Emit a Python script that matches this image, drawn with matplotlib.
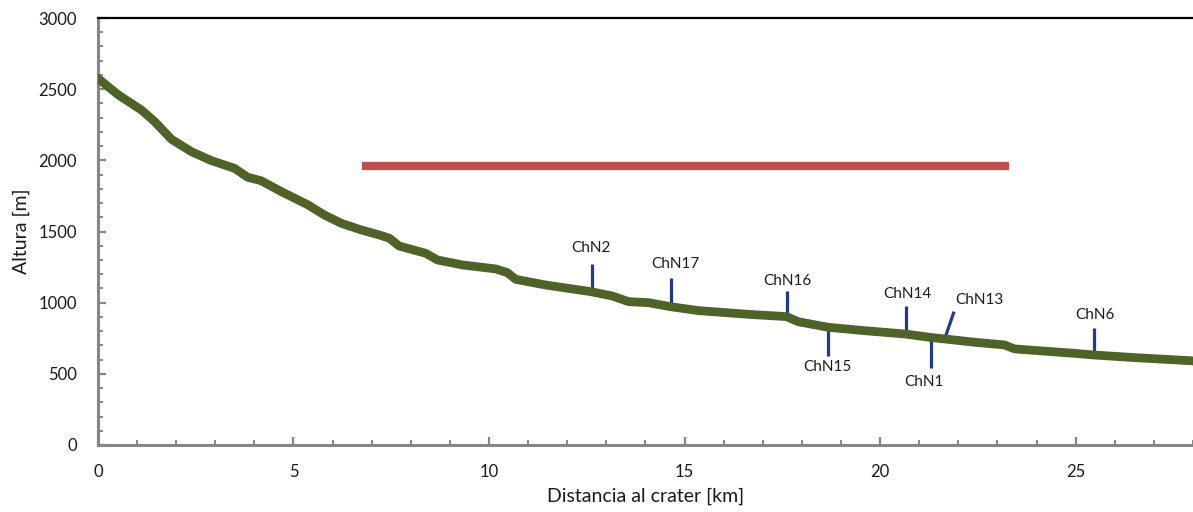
import matplotlib
matplotlib.use("Agg")
import matplotlib.pyplot as plt
from matplotlib.ticker import MultipleLocator

plt.rcParams['font.family'] = ['Lato', 'DejaVu Sans']

# Elevation profile (distance km, altitude m)
dist = [0.0, 0.05, 0.52, 1.11, 1.45, 1.88, 2.39, 2.90, 3.49, 3.83, 4.17, 4.69,
        5.37, 5.79, 6.22, 6.73, 7.19, 7.45, 7.70, 8.38, 8.68, 9.32, 10.17, 10.47,
        10.68, 11.45, 12.61, 13.15, 13.57, 14.08, 14.63, 15.36, 16.63, 17.61,
        17.91, 18.67, 19.61, 20.63, 21.31, 21.65, 22.41, 23.18, 23.44, 24.37,
        24.97, 25.48, 26.50, 27.94, 28.0]
alt = [2575, 2565, 2460, 2354, 2272, 2148, 2061, 1998, 1944, 1881, 1857, 1780,
       1687, 1616, 1558, 1511, 1476, 1453, 1398, 1347, 1300, 1265, 1237, 1211,
       1164, 1124, 1077, 1047, 1007, 1000, 972, 944, 918, 902,
       866, 827, 803, 780, 755, 745, 722, 703, 675, 656,
       644, 632, 614, 592, 590]

# Red reference bar
bar_x = [6.76, 23.29]
bar_y = [1960, 1960]

# Sample markers: name, x, y-start, x-end, y-end, label x, label y
names = ['ChN2', 'ChN17', 'ChN16', 'ChN15', 'ChN14', 'ChN1', 'ChN13', 'ChN6']
mk_x0 = [12.62, 14.64, 17.63, 18.67, 20.65, 21.31, 21.65, 25.48]
mk_y0 = [1077, 975, 900, 827, 780, 755, 745, 632]
mk_x1 = [12.62, 14.64, 17.63, 18.67, 20.65, 21.31, 21.89, 25.48]
mk_y1 = [1272, 1171, 1085, 625, 977, 539, 937, 825]
lab_x = [12.6, 14.77, 17.63, 18.65, 20.69, 21.12, 22.55, 25.48]
lab_y = [1384, 1272, 1152, 548, 1061, 443, 1019, 913]

fig = plt.figure(figsize=(11.93, 5.12), dpi=100)
ax = fig.add_axes([0.0821, 0.1309, 0.9179, 0.8339])

for x0, y0, x1, y1 in zip(mk_x0, mk_y0, mk_x1, mk_y1):
    ax.plot([x0, x1], [y0, y1], color='#1f3a8f', lw=2.3, zorder=2,
            solid_capstyle='butt')
ax.plot(dist, alt, color='#4f6228', lw=6.3, zorder=3, solid_capstyle='round',
        solid_joinstyle='round')
ax.plot(bar_x, bar_y, color='#c0504d', lw=6, zorder=3, solid_capstyle='butt')

for n, x, y in zip(names, lab_x, lab_y):
    ax.text(x, y, n, ha='center', va='center', fontsize=11, color='#1a1a1a')

ax.set_xlim(0, 28)
ax.set_ylim(0, 3000)
ax.xaxis.set_major_locator(MultipleLocator(5))
ax.xaxis.set_minor_locator(MultipleLocator(1))
ax.yaxis.set_major_locator(MultipleLocator(500))
ax.yaxis.set_minor_locator(MultipleLocator(100))

for s in ['left', 'bottom']:
    ax.spines[s].set_color('#868686')
    ax.spines[s].set_linewidth(2.2)
ax.spines['right'].set_visible(False)
ax.spines['top'].set_color('black')
ax.spines['top'].set_linewidth(1.6)

ax.tick_params(which='both', direction='in', color='#868686', top=False,
               right=False, labelsize=12, labelcolor='#1a1a1a')
ax.tick_params(which='major', length=6, width=1.6)
ax.tick_params(which='minor', length=3.5, width=1.4)
ax.tick_params(axis='x', which='major', pad=14)
ax.tick_params(axis='y', which='major', pad=15)

ax.set_xlabel('Distancia al crater [km]', fontsize=14, color='#1a1a1a', labelpad=5)
ax.set_ylabel('Altura [m]', fontsize=14, color='#1a1a1a', labelpad=6)

fig.savefig('out.png', dpi=100)
